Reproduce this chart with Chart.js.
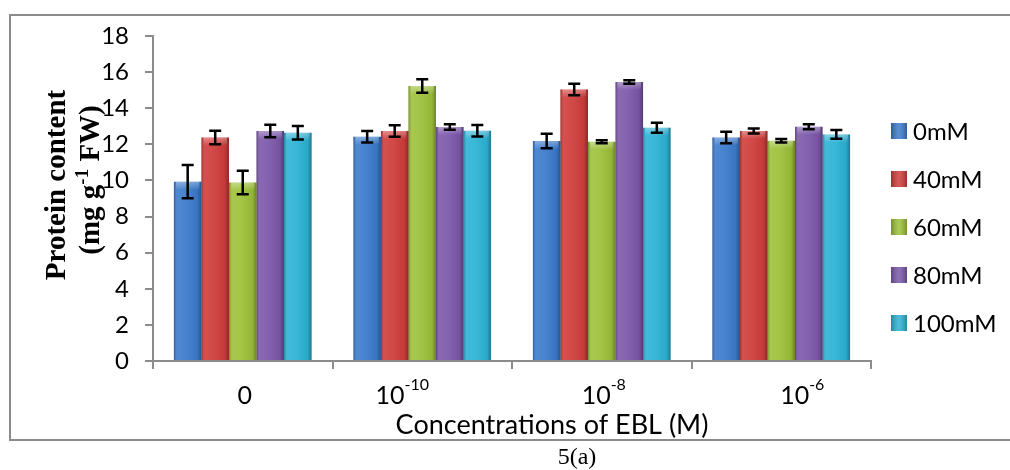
<!DOCTYPE html>
<html>
<head>
<meta charset="utf-8">
<script src="https://cdn.jsdelivr.net/npm/chart.js@4.4.1/dist/chart.umd.min.js"></script>
<style>
  html, body { margin: 0; padding: 0; background: #fff; }
  #wrap { width: 1010px; height: 470px; position: relative; }
</style>
</head>
<body>
<div id="wrap"><canvas id="c" width="1010" height="470"></canvas></div>
<script>
// ---- data ----
const categories = ['0', '10-10', '10-8', '10-6'];
const tickBase = ['0', '10', '10', '10'];
const tickExp = ['', '-10', '-8', '-6'];
const seriesNames = ['0mM', '40mM', '60mM', '80mM', '100mM'];
const s0 = [9.93, 12.42, 12.18, 12.38];
const s40 = [12.38, 12.74, 15.04, 12.74];
const s60 = [9.89, 15.23, 12.14, 12.20];
const s80 = [12.74, 12.96, 15.45, 12.97];
const s100 = [12.64, 12.75, 12.92, 12.55];
const e0 = [0.92, 0.32, 0.40, 0.32];
const e40 = [0.37, 0.32, 0.32, 0.14];
const e60 = [0.65, 0.37, 0.08, 0.10];
const e80 = [0.35, 0.15, 0.10, 0.14];
const e100 = [0.37, 0.32, 0.28, 0.24];
const yTicks = [0, 2, 4, 6, 8, 10, 12, 14, 16, 18];

const seriesValues = [s0, s40, s60, s80, s100];
const seriesErrors = [e0, e40, e60, e80, e100];
const colors = ['#3b7bcc', '#cf3d3b', '#9dc13a', '#7c58ab', '#2db3d5'];

const GRAY = '#8c8c8c';
const SANS = 'Lato, "Open Sans", sans-serif';
const SERIF = '"Liberation Serif", "DejaVu Serif", serif';

const deco = {
  id: 'deco',
  beforeDraw(chart) {
    const ctx = chart.ctx;
    ctx.save();
    ctx.fillStyle = '#fff';
    ctx.fillRect(0, 0, chart.width, chart.height);
    ctx.strokeStyle = GRAY;
    ctx.lineWidth = 2;
    ctx.beginPath();
    ctx.moveTo(1010, 15); ctx.lineTo(10, 15); ctx.lineTo(10, 440); ctx.lineTo(1010, 440);
    ctx.stroke();
    ctx.restore();
  },
  afterDatasetsDraw(chart) {
    const ctx = chart.ctx;
    const y = chart.scales.y;
    ctx.save();
    chart.data.datasets.forEach((ds, di) => {
      const meta = chart.getDatasetMeta(di);
      meta.data.forEach((bar, i) => {
        const left = bar.x - bar.width / 2, w = bar.width;
        const top = bar.y, h = bar.base - bar.y;
        const g = ctx.createLinearGradient(left, 0, left + w, 0);
        g.addColorStop(0, 'rgba(0,0,0,0.28)');
        g.addColorStop(0.12, 'rgba(255,255,255,0.10)');
        g.addColorStop(0.45, 'rgba(255,255,255,0.06)');
        g.addColorStop(0.85, 'rgba(0,0,0,0.06)');
        g.addColorStop(1, 'rgba(0,0,0,0.32)');
        ctx.fillStyle = g;
        ctx.fillRect(left, top, w, h);
        const g2 = ctx.createLinearGradient(0, top, 0, top + 8);
        g2.addColorStop(0, 'rgba(255,255,255,0.35)');
        g2.addColorStop(1, 'rgba(255,255,255,0)');
        ctx.fillStyle = g2;
        ctx.fillRect(left + 2, top, w - 4, 8);
        // error bar
        const v = seriesValues[di][i], e = seriesErrors[di][i];
        const yTop = y.getPixelForValue(v + e), yBot = y.getPixelForValue(v - e);
        ctx.strokeStyle = '#000';
        ctx.lineWidth = 2.5;
        ctx.beginPath();
        ctx.moveTo(bar.x, yTop); ctx.lineTo(bar.x, yBot);
        ctx.moveTo(bar.x - 6, yTop); ctx.lineTo(bar.x + 6, yTop);
        ctx.moveTo(bar.x - 6, yBot); ctx.lineTo(bar.x + 6, yBot);
        ctx.stroke();
      });
    });
    ctx.restore();
  },
  afterDraw(chart) {
    const ctx = chart.ctx;
    const x = chart.scales.x;
    const offs = [2, -20, 2, 21];
    ctx.save();
    ctx.fillStyle = '#000';
    ctx.textBaseline = 'alphabetic';
    // x tick labels with superscripts
    categories.forEach((c, i) => {
      const cx = x.getPixelForValue(i) + offs[i];
      ctx.font = '25px ' + SANS;
      const wb = ctx.measureText(tickBase[i]).width;
      ctx.font = '16px ' + SANS;
      const we = tickExp[i] ? ctx.measureText(tickExp[i]).width : 0;
      const start = cx - (wb + we) / 2;
      ctx.font = '25px ' + SANS;
      ctx.textAlign = 'left';
      ctx.fillText(tickBase[i], start, 404);
      if (tickExp[i]) {
        ctx.font = '16px ' + SANS;
        ctx.fillText(tickExp[i], start + wb, 390);
      }
    });
    // x title
    ctx.textAlign = 'center';
    ctx.font = '27px ' + SANS;
    ctx.fillText('Concentrations of EBL (M)', 552, 434);
    ctx.font = '24px ' + SERIF;
    ctx.fillText('5(a)', 577, 464);
    // y title (rotated)
    ctx.save();
    ctx.translate(58, 185);
    ctx.rotate(-Math.PI / 2);
    ctx.textAlign = 'center';
    ctx.textBaseline = 'middle';
    ctx.font = 'bold 29px ' + SERIF;
    ctx.fillText('Protein content', 0, 0);
    ctx.restore();
    ctx.save();
    ctx.translate(92, 180);
    ctx.rotate(-Math.PI / 2);
    ctx.textBaseline = 'middle';
    ctx.textAlign = 'left';
    ctx.font = 'bold 29px ' + SERIF;
    const p1 = '(mg g', p3 = ' FW)', p2 = '-1';
    const w1 = ctx.measureText(p1).width, w3 = ctx.measureText(p3).width;
    ctx.font = 'bold 19px ' + SERIF;
    const w2 = ctx.measureText(p2).width;
    let sx = -(w1 + w2 + w3) / 2;
    ctx.font = 'bold 29px ' + SERIF;
    ctx.fillText(p1, sx, 0);
    ctx.font = 'bold 19px ' + SERIF;
    ctx.fillText(p2, sx + w1, -9);
    ctx.font = 'bold 29px ' + SERIF;
    ctx.fillText(p3, sx + w1 + w2, 0);
    ctx.restore();
    // legend
    ctx.textAlign = 'left';
    ctx.textBaseline = 'middle';
    ctx.font = '24px ' + SANS;
    seriesNames.forEach((n, i) => {
      const cy = 131 + i * 48;
      ctx.fillStyle = colors[i];
      ctx.fillRect(891, cy - 8, 16, 16);
      const g = ctx.createLinearGradient(891, 0, 907, 0);
      g.addColorStop(0, 'rgba(0,0,0,0.25)');
      g.addColorStop(0.5, 'rgba(255,255,255,0.15)');
      g.addColorStop(1, 'rgba(0,0,0,0.25)');
      ctx.fillStyle = g;
      ctx.fillRect(891, cy - 8, 16, 16);
      ctx.fillStyle = '#000';
      ctx.fillText(n, 913, cy + 1);
    });
    ctx.restore();
  }
};

new Chart(document.getElementById('c'), {
  type: 'bar',
  data: {
    labels: categories,
    datasets: seriesNames.map((n, i) => ({
      label: n,
      data: seriesValues[i],
      backgroundColor: colors[i],
      borderWidth: 0,
      categoryPercentage: 0.767,
      barPercentage: 1.0
    }))
  },
  options: {
    responsive: false,
    animation: false,
    devicePixelRatio: 1,
    layout: { padding: { top: 36, right: 139, left: 0, bottom: 0 } },
    plugins: { legend: { display: false }, tooltip: { enabled: false } },
    scales: {
      x: {
        afterFit(s) { s.height = 109; },
        grid: { display: true, drawOnChartArea: false, drawTicks: true, tickLength: 8, color: GRAY, lineWidth: 2, offset: true },
        border: { display: true, color: GRAY, width: 2 },
        ticks: { display: false }
      },
      y: {
        min: 0, max: 18,
        afterFit(s) { s.width = 153; },
        afterBuildTicks(s) { s.ticks = yTicks.map(v => ({ value: v })); },
        grid: { display: true, drawOnChartArea: false, drawTicks: true, tickLength: 8, color: GRAY, lineWidth: 2 },
        border: { display: true, color: GRAY, width: 2 },
        ticks: { color: '#000', padding: 16, font: { family: SANS, size: 24 } }
      }
    }
  },
  plugins: [deco]
});
</script>
</body>
</html>
